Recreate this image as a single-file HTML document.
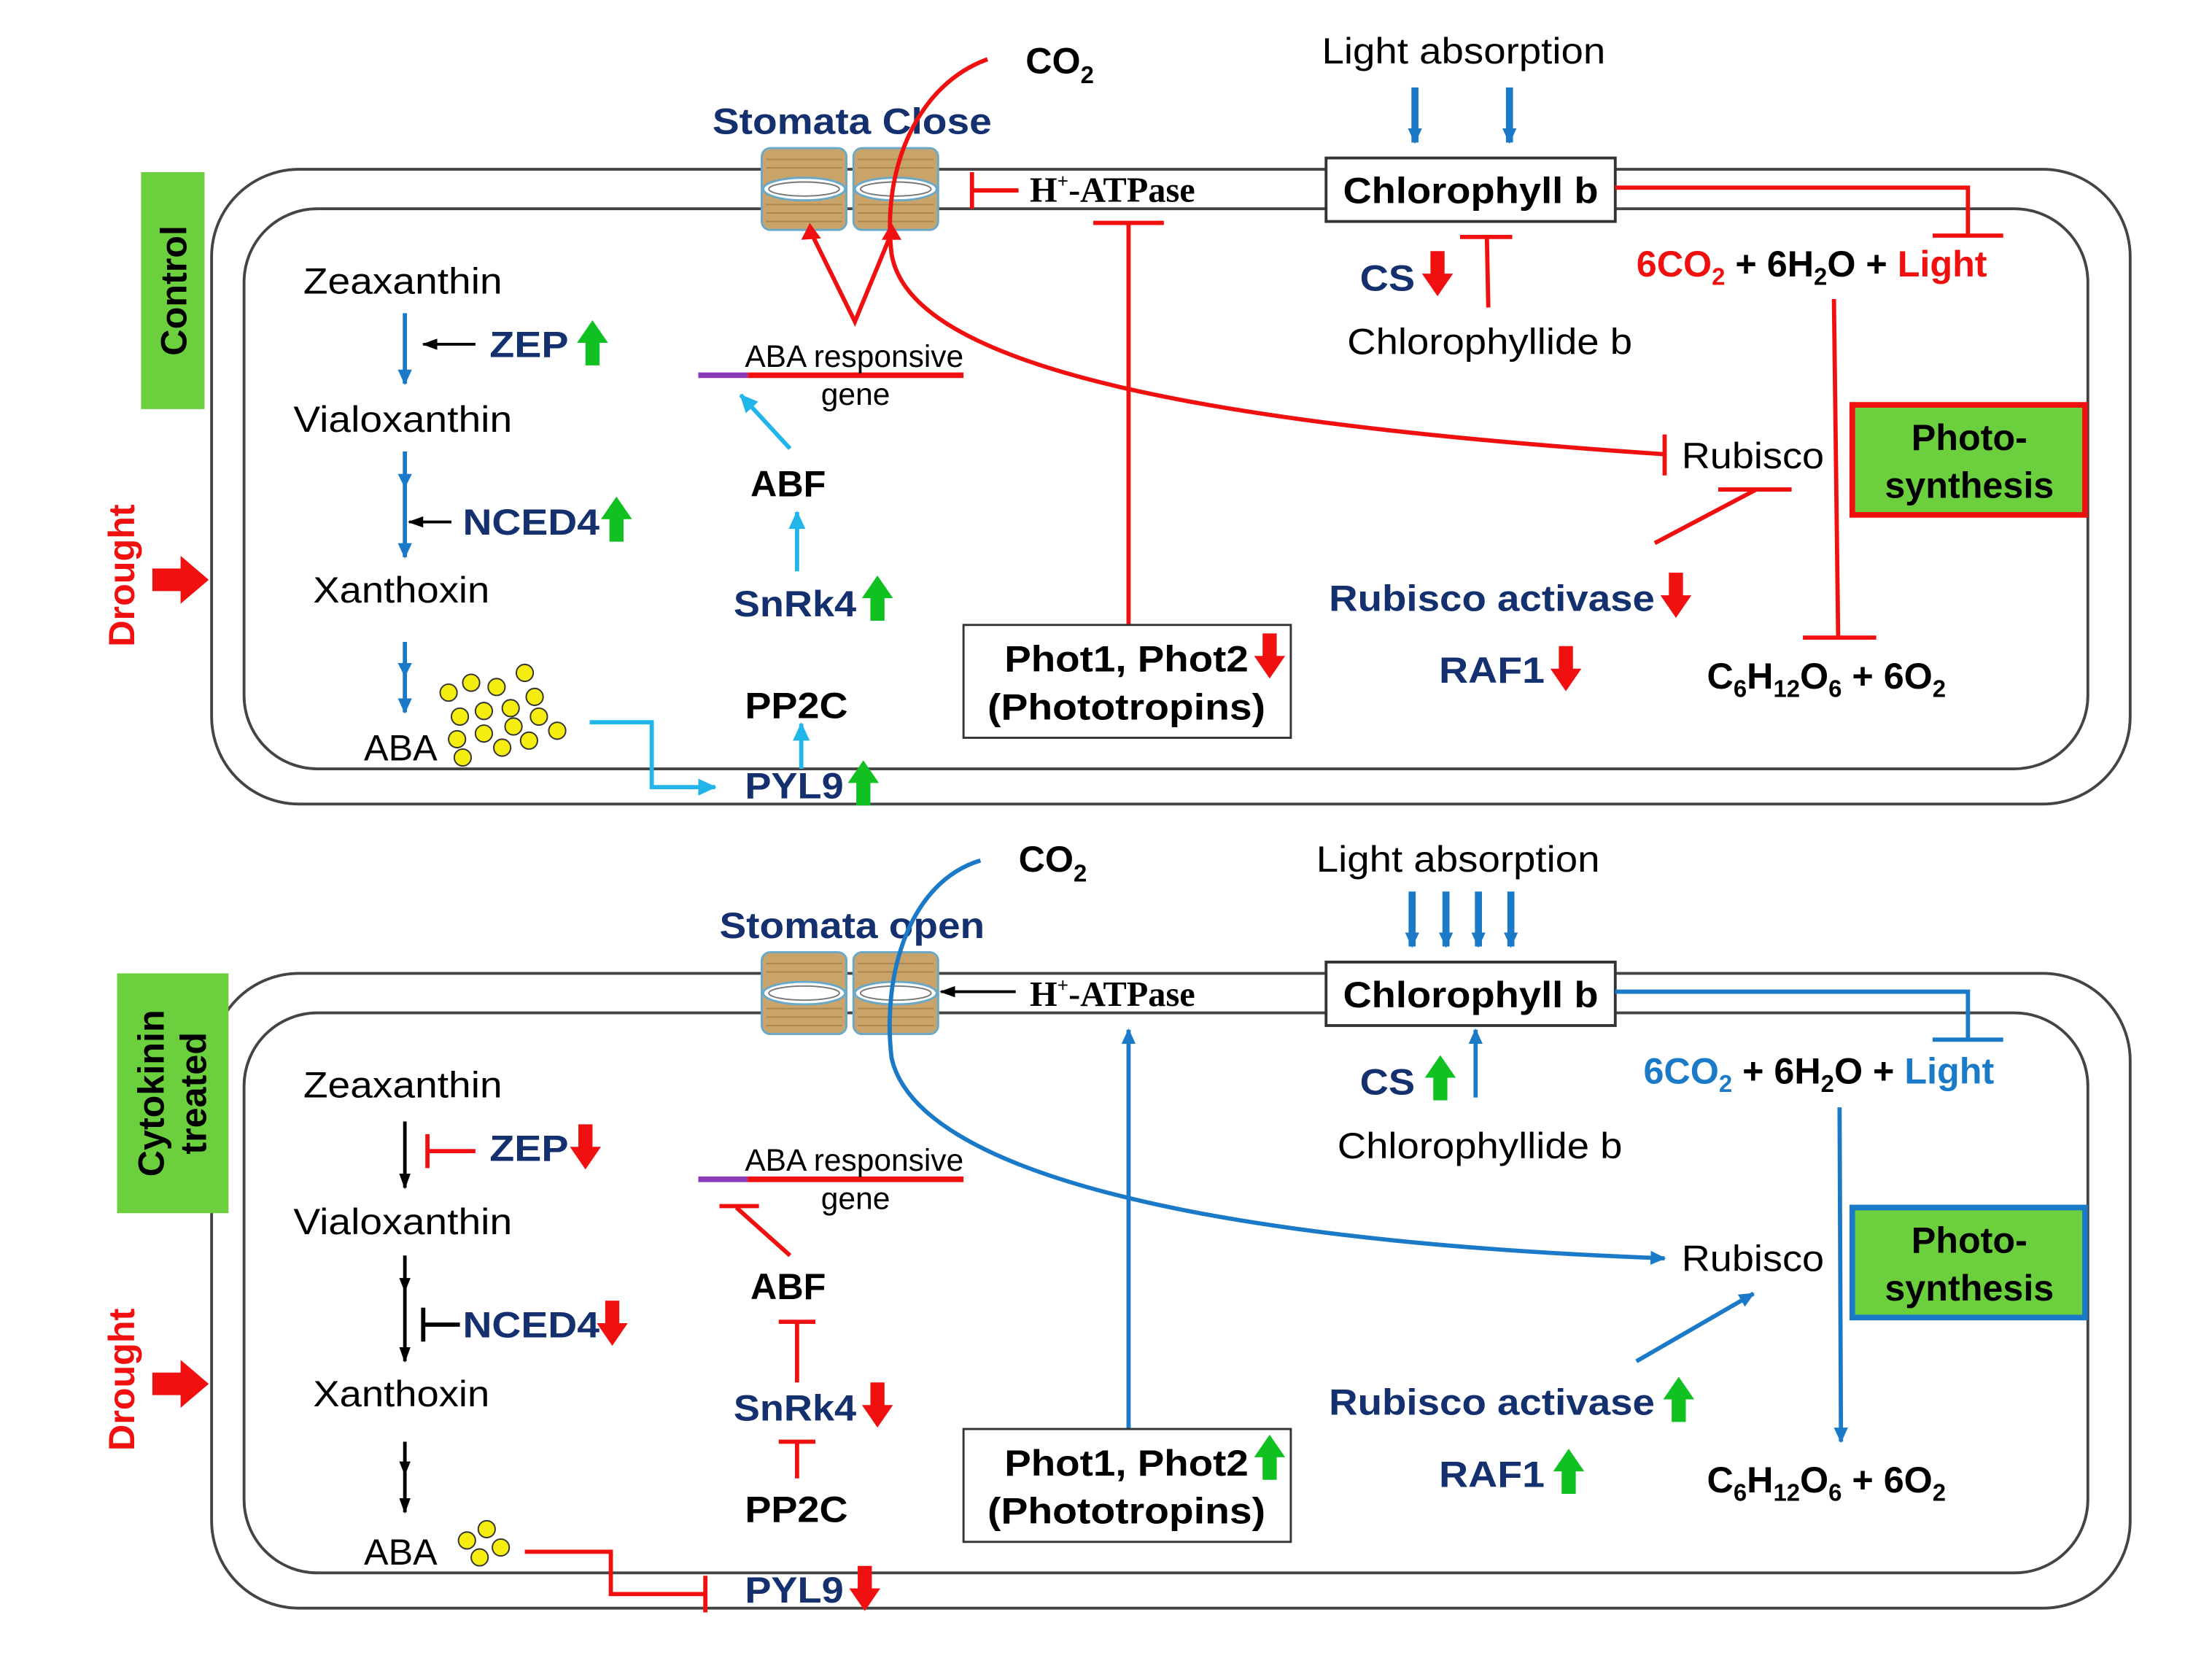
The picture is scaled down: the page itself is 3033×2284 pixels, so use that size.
<!DOCTYPE html>
<html><head><meta charset="utf-8"><style>
html,body{margin:0;padding:0;background:#fff;}
svg{display:block;}
text{font-family:"Liberation Sans",Arial,sans-serif;}
.b{font-weight:bold;}
.nv{fill:#14306e;}
.sr{font-family:"Liberation Serif",serif;font-weight:bold;}
</style></head><body>
<svg width="3033" height="2284" viewBox="0 0 1568 1181" preserveAspectRatio="none" xmlns="http://www.w3.org/2000/svg">
<defs>
<marker id="ab" markerWidth="12" markerHeight="12" refX="10" refY="6" orient="auto" markerUnits="userSpaceOnUse"><path d="M0,1 L11,6 L0,11 Z" fill="#1a7ac8"/></marker>
<marker id="ac" markerWidth="14" markerHeight="14" refX="12" refY="7" orient="auto" markerUnits="userSpaceOnUse"><path d="M0,1 L13,7 L0,13 Z" fill="#22b5ea"/></marker>
<marker id="ak" markerWidth="12" markerHeight="12" refX="10" refY="6" orient="auto" markerUnits="userSpaceOnUse"><path d="M0,2 L11,6 L0,10 Z" fill="#000"/></marker>
<path id="gup" d="M-5,16 L5,16 L5,0 L11,0 L0,-16 L-11,0 L-5,0 Z" fill="#11c021"/>
<path id="rdn" d="M-5,-16 L5,-16 L5,0 L11,0 L0,16 L-11,0 L-5,0 Z" fill="#f01010"/>
<g id="cyl">
<rect x="0" y="0" width="60" height="58" rx="6" fill="#c9a46a" stroke="#6aa8c8" stroke-width="1.5"/>
<g stroke="#a07a45" stroke-width="1" opacity="0.7">
<line x1="3" y1="8" x2="57" y2="8"/><line x1="3" y1="14" x2="57" y2="14"/><line x1="3" y1="40" x2="57" y2="40"/><line x1="3" y1="46" x2="57" y2="46"/><line x1="3" y1="52" x2="57" y2="52"/>
</g>
<ellipse cx="30" cy="29" rx="29" ry="8" fill="#fff" stroke="#6aa8c8" stroke-width="1.5"/>
<ellipse cx="30" cy="29" rx="25" ry="5" fill="none" stroke="#777" stroke-width="1"/>
</g>
</defs>
<rect width="1568" height="1181" fill="#fff"/>

<!-- ================= TOP PANEL ================= -->
<rect x="150" y="120" width="1360" height="450" rx="62" fill="none" stroke="#444" stroke-width="2"/>
<rect x="173" y="148" width="1307" height="397" rx="52" fill="none" stroke="#444" stroke-width="2"/>
<rect x="100" y="122" width="45" height="168" fill="#6ccf3e"/>
<text transform="translate(132,206) rotate(-90)" text-anchor="middle" class="b" font-size="26">Control</text>
<text transform="translate(95,408) rotate(-90)" text-anchor="middle" class="b" font-size="26" fill="#f01010">Drought</text>
<path d="M108,403 L128,403 L128,394 L148,411 L128,428 L128,419 L108,419 Z" fill="#f01010"/>

<use href="#cyl" x="540" y="105"/><use href="#cyl" x="605" y="105"/>
<text x="505" y="95" class="b nv" font-size="26" textLength="198" lengthAdjust="spacingAndGlyphs">Stomata Close</text>
<text x="727" y="52" font-size="26" class="b">CO<tspan font-size="17" dy="7">2</tspan></text>
<path d="M700,42 C650,60 625,120 632,180 C645,260 850,300 1180,322" fill="none" stroke="#f01010" stroke-width="3"/>
<line x1="1180" y1="308" x2="1180" y2="337" stroke="#f01010" stroke-width="3"/>
<line x1="689" y1="122" x2="689" y2="148" stroke="#f01010" stroke-width="3"/><line x1="689" y1="135" x2="722" y2="135" stroke="#f01010" stroke-width="3"/>
<text x="730" y="143" class="sr" font-size="25">H<tspan font-size="14" dy="-10">+</tspan><tspan dy="10">-ATPase</tspan></text>
<line x1="800" y1="443" x2="800" y2="158" stroke="#f01010" stroke-width="3"/><line x1="775" y1="158" x2="825" y2="158" stroke="#f01010" stroke-width="3"/>

<text x="937" y="45" font-size="26" textLength="201" lengthAdjust="spacingAndGlyphs">Light absorption</text>
<line x1="1003" y1="62" x2="1003" y2="101" stroke="#1a7ac8" stroke-width="5" marker-end="url(#ab)"/>
<line x1="1070" y1="62" x2="1070" y2="101" stroke="#1a7ac8" stroke-width="5" marker-end="url(#ab)"/>
<rect x="940" y="112" width="205" height="45" fill="#fff" stroke="#333" stroke-width="2"/>
<text x="952" y="144" class="b" font-size="26" textLength="181" lengthAdjust="spacingAndGlyphs">Chlorophyll b</text>
<path d="M1145,133 L1395,133 L1395,167" fill="none" stroke="#f01010" stroke-width="3"/><line x1="1370" y1="167" x2="1420" y2="167" stroke="#f01010" stroke-width="3"/>
<text x="964" y="206" class="b nv" font-size="26" textLength="39" lengthAdjust="spacingAndGlyphs">CS</text><use href="#rdn" x="1019" y="194"/>
<line x1="1055" y1="218" x2="1054" y2="168" stroke="#f01010" stroke-width="3"/><line x1="1035" y1="168" x2="1072" y2="168" stroke="#f01010" stroke-width="3"/>
<text x="955" y="251" font-size="26" textLength="202" lengthAdjust="spacingAndGlyphs">Chlorophyllide b</text>
<text x="1160" y="196" class="b" font-size="26"><tspan fill="#f01010">6CO<tspan font-size="17" dy="6">2</tspan></tspan><tspan dy="-6"> + 6H</tspan><tspan font-size="17" dy="6">2</tspan><tspan dy="-6">O + </tspan><tspan fill="#f01010">Light</tspan></text>
<line x1="1300" y1="212" x2="1303" y2="452" stroke="#f01010" stroke-width="3"/><line x1="1278" y1="452" x2="1330" y2="452" stroke="#f01010" stroke-width="3"/>
<text x="1192" y="332" font-size="26" textLength="101" lengthAdjust="spacingAndGlyphs">Rubisco</text>
<line x1="1173" y1="385" x2="1245" y2="347" stroke="#f01010" stroke-width="3"/><line x1="1218" y1="347" x2="1270" y2="347" stroke="#f01010" stroke-width="3"/>
<rect x="1313" y="287" width="165" height="78" fill="#6ccf3e" stroke="#f01010" stroke-width="4"/>
<text x="1396" y="319" text-anchor="middle" class="b" font-size="26">Photo-</text>
<text x="1396" y="353" text-anchor="middle" class="b" font-size="26">synthesis</text>
<text x="942" y="433" class="b nv" font-size="26" textLength="231" lengthAdjust="spacingAndGlyphs">Rubisco activase</text><use href="#rdn" x="1188" y="422"/>
<text x="1020" y="484" class="b nv" font-size="26" textLength="75" lengthAdjust="spacingAndGlyphs">RAF1</text><use href="#rdn" x="1110" y="474"/>
<text x="1210" y="488" class="b" font-size="26">C<tspan font-size="17" dy="6">6</tspan><tspan dy="-6">H</tspan><tspan font-size="17" dy="6">12</tspan><tspan dy="-6">O</tspan><tspan font-size="17" dy="6">6</tspan><tspan dy="-6"> + 6O</tspan><tspan font-size="17" dy="6">2</tspan></text>
<rect x="683" y="443" width="232" height="80" fill="#fff" stroke="#333" stroke-width="1.5"/>
<text x="712" y="476" class="b" font-size="26" textLength="173" lengthAdjust="spacingAndGlyphs">Phot1, Phot2</text><use href="#rdn" x="900" y="465"/>
<text x="700" y="510" class="b" font-size="26" textLength="197" lengthAdjust="spacingAndGlyphs">(Phototropins)</text>

<text x="215" y="208" font-size="26" textLength="141" lengthAdjust="spacingAndGlyphs">Zeaxanthin</text>
<line x1="287" y1="222" x2="287" y2="272" stroke="#1a7ac8" stroke-width="3" marker-end="url(#ab)"/>
<line x1="337" y1="244" x2="300" y2="244" stroke="#000" stroke-width="2" marker-end="url(#ak)"/>
<text x="347" y="253" class="b nv" font-size="26" textLength="56" lengthAdjust="spacingAndGlyphs">ZEP</text><use href="#gup" x="420" y="243"/>
<text x="208" y="306" font-size="26" textLength="155" lengthAdjust="spacingAndGlyphs">Vialoxanthin</text>
<line x1="287" y1="320" x2="287" y2="395" stroke="#1a7ac8" stroke-width="3" marker-end="url(#ab)"/>
<path d="M282,336 L287,346 L292,336 Z" fill="#1a7ac8"/>
<line x1="320" y1="370" x2="290" y2="370" stroke="#000" stroke-width="2" marker-end="url(#ak)"/>
<text x="328" y="379" class="b nv" font-size="26" textLength="97" lengthAdjust="spacingAndGlyphs">NCED4</text><use href="#gup" x="437" y="368"/>
<text x="222" y="427" font-size="26" textLength="125" lengthAdjust="spacingAndGlyphs">Xanthoxin</text>
<line x1="287" y1="455" x2="287" y2="505" stroke="#1a7ac8" stroke-width="3" marker-end="url(#ab)"/>
<path d="M282,470 L287,480 L292,470 Z" fill="#1a7ac8"/>
<text x="258" y="539" font-size="26">ABA</text>
<g fill="#f5ec10" stroke="#333" stroke-width="1">
<circle cx="318" cy="491" r="6"/><circle cx="334" cy="484" r="6"/><circle cx="352" cy="487" r="6"/><circle cx="372" cy="477" r="6"/>
<circle cx="326" cy="508" r="6"/><circle cx="343" cy="504" r="6"/><circle cx="362" cy="502" r="6"/><circle cx="379" cy="494" r="6"/>
<circle cx="324" cy="524" r="6"/><circle cx="343" cy="520" r="6"/><circle cx="364" cy="515" r="6"/><circle cx="382" cy="508" r="6"/>
<circle cx="328" cy="537" r="6"/><circle cx="356" cy="530" r="6"/><circle cx="375" cy="525" r="6"/><circle cx="395" cy="518" r="6"/>
</g>
<path d="M418,512 L462,512 L462,558 L507,558" fill="none" stroke="#22b5ea" stroke-width="3" marker-end="url(#ac)"/>
<text x="528" y="566" class="b nv" font-size="26" textLength="70" lengthAdjust="spacingAndGlyphs">PYL9</text><use href="#gup" x="612" y="555"/>
<text x="528" y="509" class="b" font-size="26" textLength="73" lengthAdjust="spacingAndGlyphs">PP2C</text>
<line x1="568" y1="545" x2="568" y2="513" stroke="#22b5ea" stroke-width="3" marker-end="url(#ac)"/>
<text x="520" y="437" class="b nv" font-size="26" textLength="87" lengthAdjust="spacingAndGlyphs">SnRk4</text><use href="#gup" x="622" y="424"/>
<line x1="565" y1="405" x2="565" y2="363" stroke="#22b5ea" stroke-width="3" marker-end="url(#ac)"/>
<text x="532" y="352" class="b" font-size="26">ABF</text>
<line x1="560" y1="318" x2="525" y2="280" stroke="#22b5ea" stroke-width="3" marker-end="url(#ac)"/>
<line x1="495" y1="266" x2="530" y2="266" stroke="#8a3ab8" stroke-width="4"/><line x1="530" y1="266" x2="683" y2="266" stroke="#f01010" stroke-width="4"/>
<text x="528" y="260" font-size="22" textLength="155" lengthAdjust="spacingAndGlyphs">ABA responsive</text><text x="582" y="287" font-size="22">gene</text>
<path d="M575,165 L606,228 L632,165" fill="none" stroke="#f01010" stroke-width="3"/>
<path d="M568,170 L574,158 L582,169 Z M625,170 L632,158 L639,170 Z" fill="#f01010"/>

<!-- ================= BOTTOM PANEL ================= -->
<rect x="150" y="690" width="1360" height="450" rx="62" fill="none" stroke="#444" stroke-width="2"/>
<rect x="173" y="718" width="1307" height="397" rx="52" fill="none" stroke="#444" stroke-width="2"/>
<rect x="83" y="690" width="79" height="170" fill="#6ccf3e"/>
<text transform="translate(116,775) rotate(-90)" text-anchor="middle" class="b" font-size="26">Cytokinin</text>
<text transform="translate(146,775) rotate(-90)" text-anchor="middle" class="b" font-size="26">treated</text>
<text transform="translate(95,978) rotate(-90)" text-anchor="middle" class="b" font-size="26" fill="#f01010">Drought</text>
<path d="M108,973 L128,973 L128,964 L148,981 L128,998 L128,989 L108,989 Z" fill="#f01010"/>

<use href="#cyl" x="540" y="675"/><use href="#cyl" x="605" y="675"/>
<text x="510" y="665" class="b nv" font-size="26" textLength="188" lengthAdjust="spacingAndGlyphs">Stomata open</text>
<text x="722" y="618" font-size="26" class="b">CO<tspan font-size="17" dy="7">2</tspan></text>
<path d="M695,610 C645,625 625,690 632,750 C650,830 850,880 1180,892" fill="none" stroke="#1a7ac8" stroke-width="3" marker-end="url(#ab)"/>
<line x1="720" y1="703" x2="667" y2="703" stroke="#000" stroke-width="2" marker-end="url(#ak)"/>
<text x="730" y="713" class="sr" font-size="25">H<tspan font-size="14" dy="-10">+</tspan><tspan dy="10">-ATPase</tspan></text>
<line x1="800" y1="1013" x2="800" y2="730" stroke="#1a7ac8" stroke-width="3" marker-end="url(#ab)"/>

<text x="933" y="618" font-size="26" textLength="201" lengthAdjust="spacingAndGlyphs">Light absorption</text>
<g stroke="#1a7ac8" stroke-width="5">
<line x1="1001" y1="632" x2="1001" y2="671" marker-end="url(#ab)"/><line x1="1025" y1="632" x2="1025" y2="671" marker-end="url(#ab)"/>
<line x1="1048" y1="632" x2="1048" y2="671" marker-end="url(#ab)"/><line x1="1071" y1="632" x2="1071" y2="671" marker-end="url(#ab)"/>
</g>
<rect x="940" y="682" width="205" height="45" fill="#fff" stroke="#333" stroke-width="2"/>
<text x="952" y="714" class="b" font-size="26" textLength="181" lengthAdjust="spacingAndGlyphs">Chlorophyll b</text>
<path d="M1145,703 L1395,703 L1395,737" fill="none" stroke="#1a7ac8" stroke-width="3"/><line x1="1370" y1="737" x2="1420" y2="737" stroke="#1a7ac8" stroke-width="3"/>
<text x="964" y="776" class="b nv" font-size="26" textLength="39" lengthAdjust="spacingAndGlyphs">CS</text><use href="#gup" x="1021" y="764"/>
<line x1="1046" y1="778" x2="1046" y2="730" stroke="#1a7ac8" stroke-width="3" marker-end="url(#ab)"/>
<text x="948" y="821" font-size="26" textLength="202" lengthAdjust="spacingAndGlyphs">Chlorophyllide b</text>
<text x="1165" y="768" class="b" font-size="26"><tspan fill="#1a7ac8">6CO<tspan font-size="17" dy="6">2</tspan></tspan><tspan dy="-6"> + 6H</tspan><tspan font-size="17" dy="6">2</tspan><tspan dy="-6">O + </tspan><tspan fill="#1a7ac8">Light</tspan></text>
<line x1="1304" y1="785" x2="1305" y2="1022" stroke="#1a7ac8" stroke-width="3" marker-end="url(#ab)"/>
<text x="1192" y="901" font-size="26" textLength="101" lengthAdjust="spacingAndGlyphs">Rubisco</text>
<line x1="1160" y1="965" x2="1243" y2="917" stroke="#1a7ac8" stroke-width="3" marker-end="url(#ab)"/>
<rect x="1313" y="856" width="165" height="78" fill="#6ccf3e" stroke="#1a7ac8" stroke-width="4"/>
<text x="1396" y="888" text-anchor="middle" class="b" font-size="26">Photo-</text>
<text x="1396" y="922" text-anchor="middle" class="b" font-size="26">synthesis</text>
<text x="942" y="1003" class="b nv" font-size="26" textLength="231" lengthAdjust="spacingAndGlyphs">Rubisco activase</text><use href="#gup" x="1190" y="992"/>
<text x="1020" y="1054" class="b nv" font-size="26" textLength="75" lengthAdjust="spacingAndGlyphs">RAF1</text><use href="#gup" x="1112" y="1043"/>
<text x="1210" y="1058" class="b" font-size="26">C<tspan font-size="17" dy="6">6</tspan><tspan dy="-6">H</tspan><tspan font-size="17" dy="6">12</tspan><tspan dy="-6">O</tspan><tspan font-size="17" dy="6">6</tspan><tspan dy="-6"> + 6O</tspan><tspan font-size="17" dy="6">2</tspan></text>
<rect x="683" y="1013" width="232" height="80" fill="#fff" stroke="#333" stroke-width="1.5"/>
<text x="712" y="1046" class="b" font-size="26" textLength="173" lengthAdjust="spacingAndGlyphs">Phot1, Phot2</text><use href="#gup" x="900" y="1033"/>
<text x="700" y="1080" class="b" font-size="26" textLength="197" lengthAdjust="spacingAndGlyphs">(Phototropins)</text>

<text x="215" y="778" font-size="26" textLength="141" lengthAdjust="spacingAndGlyphs">Zeaxanthin</text>
<line x1="287" y1="795" x2="287" y2="842" stroke="#000" stroke-width="2.5" marker-end="url(#ak)"/>
<line x1="303" y1="804" x2="303" y2="828" stroke="#f01010" stroke-width="3"/><line x1="303" y1="816" x2="337" y2="816" stroke="#f01010" stroke-width="3"/>
<text x="347" y="823" class="b nv" font-size="26" textLength="56" lengthAdjust="spacingAndGlyphs">ZEP</text><use href="#rdn" x="415" y="813"/>
<text x="208" y="875" font-size="26" textLength="155" lengthAdjust="spacingAndGlyphs">Vialoxanthin</text>
<line x1="287" y1="890" x2="287" y2="965" stroke="#000" stroke-width="2.5" marker-end="url(#ak)"/>
<path d="M283,906 L287,916 L291,906 Z" fill="#000"/>
<line x1="300" y1="927" x2="300" y2="951" stroke="#000" stroke-width="3"/><line x1="300" y1="939" x2="326" y2="939" stroke="#000" stroke-width="3"/>
<text x="328" y="948" class="b nv" font-size="26" textLength="97" lengthAdjust="spacingAndGlyphs">NCED4</text><use href="#rdn" x="434" y="938"/>
<text x="222" y="997" font-size="26" textLength="125" lengthAdjust="spacingAndGlyphs">Xanthoxin</text>
<line x1="287" y1="1022" x2="287" y2="1072" stroke="#000" stroke-width="2.5" marker-end="url(#ak)"/>
<path d="M283,1036 L287,1046 L291,1036 Z" fill="#000"/>
<text x="258" y="1109" font-size="26">ABA</text>
<g fill="#f5ec10" stroke="#333" stroke-width="1">
<circle cx="331" cy="1092" r="6"/><circle cx="345" cy="1084" r="6"/><circle cx="340" cy="1104" r="6"/><circle cx="355" cy="1097" r="6"/>
</g>
<path d="M372,1100 L433,1100 L433,1130 L500,1130" fill="none" stroke="#f01010" stroke-width="3"/><line x1="500" y1="1117" x2="500" y2="1143" stroke="#f01010" stroke-width="3"/>
<text x="528" y="1136" class="b nv" font-size="26" textLength="70" lengthAdjust="spacingAndGlyphs">PYL9</text><use href="#rdn" x="613" y="1126"/>
<text x="528" y="1079" class="b" font-size="26" textLength="73" lengthAdjust="spacingAndGlyphs">PP2C</text>
<line x1="565" y1="1048" x2="565" y2="1022" stroke="#f01010" stroke-width="3"/><line x1="552" y1="1022" x2="578" y2="1022" stroke="#f01010" stroke-width="3"/>
<text x="520" y="1007" class="b nv" font-size="26" textLength="87" lengthAdjust="spacingAndGlyphs">SnRk4</text><use href="#rdn" x="622" y="996"/>
<line x1="565" y1="980" x2="565" y2="937" stroke="#f01010" stroke-width="3"/><line x1="552" y1="937" x2="578" y2="937" stroke="#f01010" stroke-width="3"/>
<text x="532" y="921" class="b" font-size="26">ABF</text>
<line x1="560" y1="890" x2="522" y2="856" stroke="#f01010" stroke-width="3"/><line x1="510" y1="855" x2="538" y2="855" stroke="#f01010" stroke-width="3"/>
<line x1="495" y1="836" x2="530" y2="836" stroke="#8a3ab8" stroke-width="4"/><line x1="530" y1="836" x2="683" y2="836" stroke="#f01010" stroke-width="4"/>
<text x="528" y="830" font-size="22" textLength="155" lengthAdjust="spacingAndGlyphs">ABA responsive</text><text x="582" y="857" font-size="22">gene</text>
</svg>
</body></html>
